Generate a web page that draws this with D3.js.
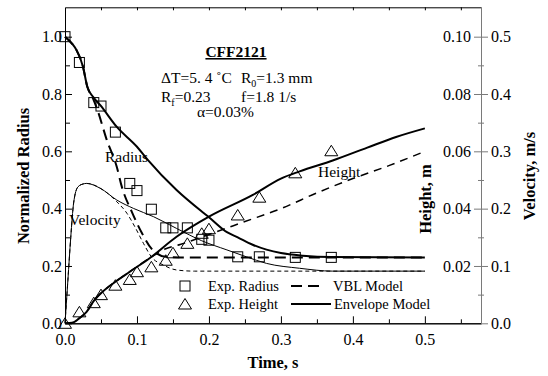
<!DOCTYPE html>
<html>
<head>
<meta charset="utf-8">
<script src="https://cdn.jsdelivr.net/npm/d3@7"></script>
<style>
  body { margin: 0; background: #fff; }
  svg { display: block; font-family: "Liberation Serif", "Times New Roman", serif; }
  .axis text { font-family: "Liberation Serif", "Times New Roman", serif; font-size: 16px; fill: #000; }
  .axis path, .axis line { stroke: #000; }
  .axis.right path, .axis.right line { stroke: #7a7a7a; }
</style>
</head>
<body>
<svg id="chart" width="548" height="376"></svg>
<script>
// experimental points
const expTime = [0, 0.02, 0.04, 0.05, 0.07, 0.09, 0.10, 0.12, 0.14, 0.15, 0.17, 0.19, 0.20, 0.24, 0.27, 0.32, 0.37];
const expRadius = [1.0, 0.91, 0.77, 0.758, 0.667, 0.488, 0.463, 0.398, 0.333, 0.333, 0.333, 0.293, 0.29, 0.232, 0.232, 0.23, 0.23];
const expHeight = [0, 0.004, 0.0072, 0.010, 0.0133, 0.0153, 0.018, 0.0197, 0.022, 0.0246, 0.0279, 0.0314, 0.033, 0.0378, 0.044, 0.0525, 0.0602];

// envelope model
const envRadiusT = [0, 0.01, 0.016, 0.025, 0.031, 0.039, 0.049, 0.072, 0.1, 0.115, 0.155, 0.19, 0.2, 0.225, 0.24, 0.26, 0.28, 0.3, 0.33, 0.37, 0.5];
const envRadius = [1.0, 0.975, 0.953, 0.895, 0.825, 0.79, 0.761, 0.685, 0.616, 0.57, 0.465, 0.39, 0.37, 0.318, 0.30, 0.275, 0.257, 0.245, 0.236, 0.231, 0.23];
const envHeightT = [0, 0.01, 0.02, 0.03, 0.04, 0.05, 0.07, 0.09, 0.118, 0.155, 0.2, 0.261, 0.3, 0.326, 0.372, 0.42, 0.46, 0.5];
const envHeight = [0, 0.0002, 0.0018, 0.004, 0.0078, 0.0105, 0.0145, 0.018, 0.0228, 0.0302, 0.0372, 0.0448, 0.0505, 0.053, 0.0568, 0.0613, 0.065, 0.068];
const envVelT = [0, 0.004, 0.008, 0.012, 0.018, 0.025, 0.03, 0.049, 0.072, 0.095, 0.123, 0.155, 0.19, 0.225, 0.252, 0.28, 0.326, 0.372, 0.5];
const envVel = [0, 0.075, 0.15, 0.21, 0.238, 0.243, 0.244, 0.2355, 0.215, 0.2005, 0.186, 0.1655, 0.144, 0.128, 0.116, 0.1045, 0.096, 0.091, 0.091];

// VBL model
const vblRadiusT = [0, 0.01, 0.016, 0.025, 0.031, 0.038, 0.045, 0.058, 0.072, 0.079, 0.093, 0.107, 0.122, 0.14, 0.16, 0.5];
const vblRadius = [1.0, 0.975, 0.953, 0.895, 0.825, 0.79, 0.745, 0.64, 0.545, 0.476, 0.388, 0.314, 0.255, 0.232, 0.23, 0.23];
const vblHeightT = [0, 0.01, 0.02, 0.03, 0.04, 0.05, 0.07, 0.09, 0.118, 0.14, 0.16, 0.2, 0.25, 0.3, 0.35, 0.4, 0.45, 0.5];
const vblHeight = [0, 0.0002, 0.0018, 0.004, 0.0078, 0.0105, 0.0145, 0.018, 0.0228, 0.026, 0.0275, 0.031, 0.0355, 0.040, 0.0455, 0.0505, 0.055, 0.060];
const vblVelT = [0, 0.004, 0.008, 0.012, 0.018, 0.025, 0.03, 0.053, 0.072, 0.086, 0.097, 0.109, 0.12, 0.137, 0.155, 0.18, 0.5];
const vblVel = [0, 0.075, 0.15, 0.21, 0.238, 0.243, 0.244, 0.2325, 0.212, 0.192, 0.1685, 0.1395, 0.116, 0.1015, 0.093, 0.091, 0.091];

const xTicks = [0, 0.1, 0.2, 0.3, 0.4, 0.5];
const radiusTicks = [0, 0.2, 0.4, 0.6, 0.8, 1.0];
const heightTicks = [0.02, 0.04, 0.06, 0.08, 0.10];
const velTicks = [0, 0.1, 0.2, 0.3, 0.4, 0.5];

const svg = d3.select('#chart');
const plotL = 65, plotR = 481, plotT = 7.3, plotB = 323.3;

const x = d3.scaleLinear().domain([0, 0.578]).range([plotL, plotR]);
const yR = d3.scaleLinear().domain([0, 1.1025]).range([plotB, plotT]);
const yH = d3.scaleLinear().domain([0, 0.11025]).range([plotB, plotT]);
const yV = d3.scaleLinear().domain([0, 0.55125]).range([plotB, plotT]);

// axes
const minorX = d3.range(1, 12, 2).map(i => i * 0.05);
svg.append('g').attr('class', 'axis').attr('transform', `translate(0,${plotB})`)
    .call(d3.axisBottom(x).tickValues(xTicks).tickFormat(d3.format('.1f')).tickSize(-7).tickSizeOuter(0).tickPadding(10));
svg.append('g').attr('class', 'axis').attr('transform', `translate(0,${plotB})`)
    .call(d3.axisBottom(x).tickValues(minorX).tickFormat('').tickSize(-4).tickSizeOuter(0));
svg.append('g').attr('class', 'axis').attr('transform', `translate(0,${plotT})`)
    .call(d3.axisTop(x).tickValues(d3.range(1, 12).map(i => i * 0.05)).tickFormat('').tickSize(-3).tickSizeOuter(0));

svg.append('g').attr('class', 'axis').attr('transform', `translate(${plotL},0)`)
    .call(d3.axisLeft(yR).tickValues(radiusTicks).tickFormat(d3.format('.1f')).tickSize(-7).tickSizeOuter(0).tickPadding(3));
svg.append('g').attr('class', 'axis').attr('transform', `translate(${plotL},0)`)
    .call(d3.axisLeft(yR).tickValues([0.1, 0.3, 0.5, 0.7, 0.9]).tickFormat('').tickSize(-5).tickSizeOuter(0));

svg.append('g').attr('class', 'axis right').attr('transform', `translate(${plotR},0)`)
    .call(d3.axisLeft(yH).tickValues(heightTicks).tickFormat(d3.format('.2f')).tickSize(7).tickSizeOuter(0).tickPadding(3));
svg.append('g').attr('class', 'axis right').attr('transform', `translate(${plotR},0)`)
    .call(d3.axisRight(yV).tickValues(velTicks).tickFormat(d3.format('.1f')).tickSize(7).tickSizeOuter(0).tickPadding(3));
svg.append('g').attr('class', 'axis right').attr('transform', `translate(${plotR},0)`)
    .call(d3.axisLeft(yH).tickValues([0.01, 0.03, 0.05, 0.07, 0.09]).tickFormat('').tickSize(3).tickSizeOuter(0));
svg.append('g').attr('class', 'axis right').attr('transform', `translate(${plotR},0)`)
    .call(d3.axisRight(yH).tickValues([0.01, 0.03, 0.05, 0.07, 0.09]).tickFormat('').tickSize(3).tickSizeOuter(0));

// axis titles
svg.append('text').attr('x', 273).attr('y', 368).attr('text-anchor', 'middle')
    .attr('font-weight', 'bold').attr('font-size', 16.5).text('Time, s');
svg.append('text').attr('transform', 'translate(29,176) rotate(-90)').attr('text-anchor', 'middle')
    .attr('font-weight', 'bold').attr('font-size', 16.5).text('Normalized Radius');
svg.append('text').attr('transform', 'translate(431,199) rotate(-90)').attr('text-anchor', 'middle')
    .attr('font-weight', 'bold').attr('font-size', 16.5).text('Height, m');
svg.append('text').attr('transform', 'translate(535,176) rotate(-90)').attr('text-anchor', 'middle')
    .attr('font-weight', 'bold').attr('font-size', 16.5).text('Velocity, m/s');

// curves
function curve(ts, vs, yScale, width, dash) {
    const line = d3.line().x(d => x(d[0])).y(d => yScale(d[1])).curve(d3.curveMonotoneX);
    svg.append('path')
        .attr('d', line(ts.map((t, i) => [t, vs[i]])))
        .attr('fill', 'none')
        .attr('stroke', '#000')
        .attr('stroke-width', width)
        .attr('stroke-dasharray', dash || null);
}

curve(envVelT, envVel, yV, 1);
curve(vblVelT, vblVel, yV, 1, '4,3');
curve(vblRadiusT, vblRadius, yR, 2, '11,6');
curve(vblHeightT, vblHeight, yH, 1.5, '8,6');
curve(envRadiusT, envRadius, yR, 2);
curve(envHeightT, envHeight, yH, 2);

// markers
const sq = 10;
svg.append('g').selectAll('rect')
    .data(expTime.map((t, i) => [t, expRadius[i]]))
    .join('rect')
    .attr('x', d => x(d[0]) - sq / 2)
    .attr('y', d => yR(d[1]) - sq / 2)
    .attr('width', sq).attr('height', sq)
    .attr('fill', 'none').attr('stroke', '#000').attr('stroke-width', 1);

const tri = 'M0,-5.5L6.5,5L-6.5,5Z';
svg.append('g').selectAll('path')
    .data(expTime.map((t, i) => [t, expHeight[i]]))
    .join('path')
    .attr('d', tri)
    .attr('transform', d => `translate(${x(d[0])},${yH(d[1])})`)
    .attr('fill', 'none').attr('stroke', '#000').attr('stroke-width', 1);

// annotations
const note = svg.append('g').attr('font-size', 15.5);
note.append('text').attr('x', 236).attr('y', 57).attr('text-anchor', 'middle')
    .attr('font-weight', 'bold').attr('text-decoration', 'underline').text('CFF2121');
note.append('text').attr('x', 161).attr('y', 83).text('\u0394T=5. 4 \u02DAC');
const r0 = note.append('text').attr('x', 241).attr('y', 83);
r0.append('tspan').text('R');
r0.append('tspan').attr('font-size', 10).attr('dy', 4).text('0');
r0.append('tspan').attr('dy', -4).text('=1.3 mm');
const rf = note.append('text').attr('x', 161).attr('y', 102);
rf.append('tspan').text('R');
rf.append('tspan').attr('font-size', 10).attr('dy', 4).text('f');
rf.append('tspan').attr('dy', -4).text('=0.23');
note.append('text').attr('x', 241).attr('y', 102).text('f=1.8 1/s');
note.append('text').attr('x', 197).attr('y', 117).text('\u03B1=0.03%');

note.append('text').attr('x', 105).attr('y', 162).text('Radius');
note.append('text').attr('x', 69).attr('y', 225).text('Velocity');
note.append('text').attr('x', 318).attr('y', 177).text('Height');

// legend
const lg = svg.append('g').attr('font-size', 14.5);
lg.append('rect').attr('x', 180).attr('y', 281).attr('width', sq).attr('height', sq)
    .attr('fill', 'none').attr('stroke', '#000');
lg.append('text').attr('x', 208).attr('y', 291).text('Exp. Radius');
lg.append('path').attr('d', tri).attr('transform', 'translate(185,304)')
    .attr('fill', 'none').attr('stroke', '#000');
lg.append('text').attr('x', 208).attr('y', 309).text('Exp. Height');
lg.append('line').attr('x1', 291).attr('x2', 322).attr('y1', 286).attr('y2', 286)
    .attr('stroke', '#000').attr('stroke-width', 2).attr('stroke-dasharray', '11,6');
lg.append('text').attr('x', 333).attr('y', 291).text('VBL Model');
lg.append('line').attr('x1', 291).attr('x2', 331).attr('y1', 304).attr('y2', 304)
    .attr('stroke', '#000').attr('stroke-width', 2);
lg.append('text').attr('x', 334).attr('y', 309).text('Envelope Model');
</script>
</body>
</html>
